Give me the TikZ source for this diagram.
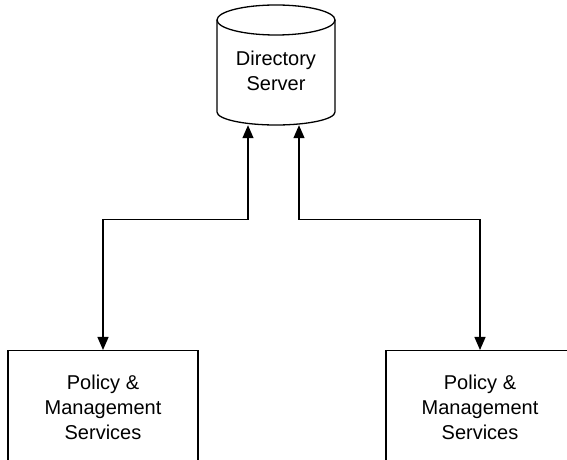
\documentclass[tikz,border=0pt]{standalone}
\usepackage{fontspec}
\setmainfont{Liberation Sans}
\usetikzlibrary{arrows.meta}
\begin{document}
\begin{tikzpicture}[x=1pt,y=1pt,
  outline/.style={draw=black, line width=1.3pt},
  label text/.style={font=\fontsize{20}{25}\selectfont, align=center},
  svcbox/.style={outline, label text, anchor=north, minimum width=190pt, minimum height=114pt, inner sep=0pt},
  conn/.style={line width=1.3pt, {Triangle[length=13pt,width=11pt]}-{Triangle[length=13pt,width=11pt]}}]
\useasboundingbox (0,0) rectangle (567,460);
\clip (0,0) rectangle (567,460);
% cylinder shape
\draw[outline] (276,440) ellipse [x radius=59, y radius=15];
\draw[outline] (217,440) -- (217,348) arc[start angle=180, end angle=360, x radius=59, y radius=13] -- (335,440);
\node[minimum width=118pt, minimum height=118pt, inner sep=0pt] (ds) at (276,394) {};
\node[label text] (dstext) at (276,389) {Directory\\Server};
% service boxes
\node[svcbox] (p1) at (103,110) {Policy \&\\Management\\Services};
\node[svcbox, minimum width=188pt] (p2) at (480,110) {Policy \&\\Management\\Services};
% connectors
\draw[conn] ([xshift=-28pt]ds.south) -- ++(0,-94) -| (p1.north);
\draw[conn] ([xshift=23pt]ds.south) -- ++(0,-94) -| (p2.north);
\end{tikzpicture}
\end{document}
